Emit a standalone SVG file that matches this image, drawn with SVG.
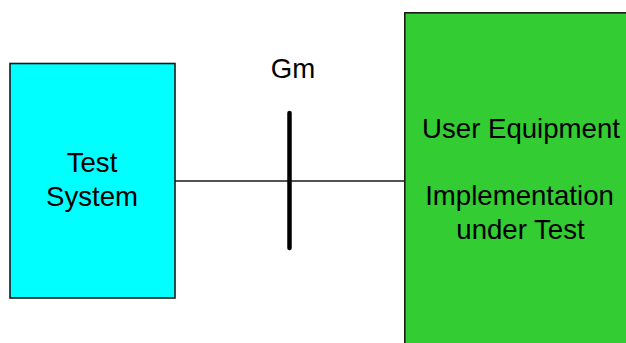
<svg xmlns="http://www.w3.org/2000/svg" width="626" height="343" viewBox="0 0 626 343">
<style>
text{font-family:"Liberation Sans",Arial,sans-serif;font-size:27.6px;fill:#000;text-anchor:middle}
.box{stroke:#1a1a1a;stroke-width:1.6}
</style>
<rect width="626" height="343" fill="#fff"/>
<g id="connectors">
<line x1="175" y1="181" x2="405" y2="181" stroke="#1a1a1a" stroke-width="1.6"/>
</g>
<g id="test-system">
<rect class="box" x="10" y="63.5" width="165" height="234.5" fill="#00ffff"/>
<text x="92" y="171.5">Test</text>
<text x="92" y="205.5">System</text>
</g>
<g id="gm">
<line x1="289.5" y1="113" x2="289.5" y2="248" stroke="#000" stroke-width="4.5" stroke-linecap="round"/>
<text x="293" y="77.5">Gm</text>
</g>
<g id="ue">
<rect class="box" x="404.8" y="12.8" width="240" height="350" fill="#33cc33"/>
<text x="521" y="137.5">User Equipment</text>
<text x="519.5" y="205">Implementation</text>
<text x="520.5" y="239.3">under Test</text>
</g>
</svg>
